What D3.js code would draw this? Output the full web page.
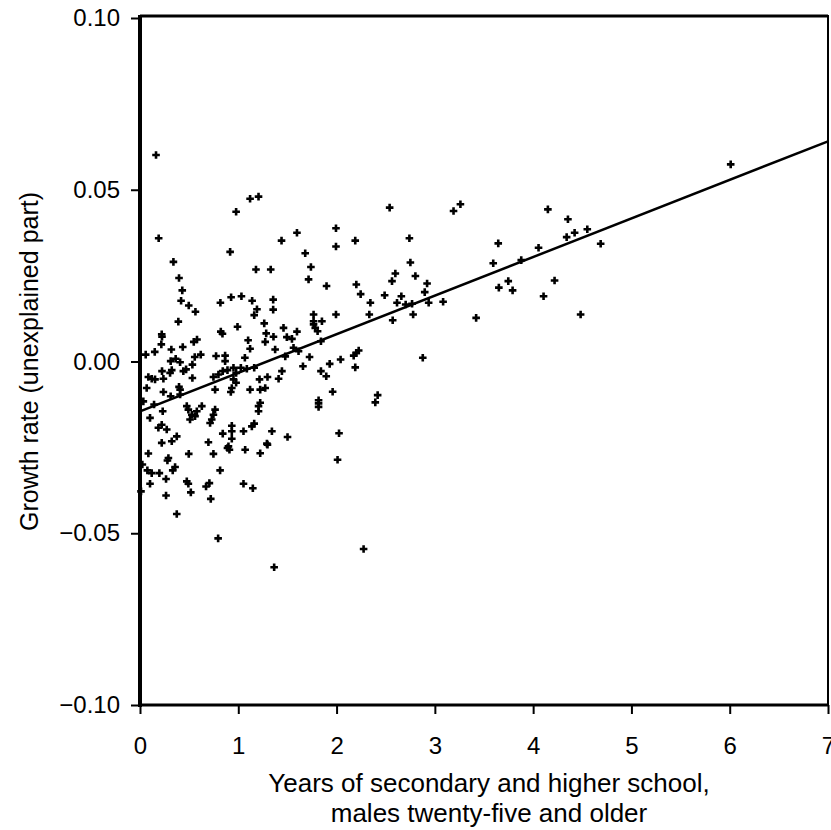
<!DOCTYPE html>
<html>
<head>
<meta charset="utf-8">
<script src="https://cdn.jsdelivr.net/npm/d3@7"></script>
<style>
  html, body { margin: 0; padding: 0; background: #fff; }
  svg { display: block; }
  text { font-family: "Liberation Sans", Arial, Helvetica, sans-serif; fill: #000; }
</style>
</head>
<body>
<svg id="chart" width="831" height="830"></svg>
<script>
// ---- data ----
const xValues = [
  0.163,0.978,1.12,1.206,0.19,0.917,1.44,0.34,1.18,1.33,0.397,0.43,0.418,0.496,0.564,0.818,0.927,1.032,1.141,1.355,1.355,1.19,1.162,
  0.39,0.221,0.224,0.217,0.058,0.15,0.319,0.435,0.547,0.58,0.618,0.557,0.822,0.839,0.992,1.264,1.284,1.274,1.358,1.46,1.494,1.10,1.12,1.375,1.067,0.774,0.866,0.866,0.312,0.363,0.408,0.441,0.469,0.533,0.323,0.306,0.224,0.085,0.119,0.153,0.238,0.533,0.068,0.238,0.312,0.408,0.397,0.408,0.747,0.798,0.842,0.89,0.951,0.978,0.951,0.978,0.934,0.924,1.026,1.087,1.162,0.764,1.216,1.297,1.41,1.444,1.12,1.223,1.274,0.034,0.143,0.231,0.476,0.492,0.578,0.629,0.527,0.509,0.56,0.764,0.747,0.73,0.713,1.206,1.223,1.206,0.102,0.221,0.187,0.272,0.374,0.323,0.221,0.696,0.842,0.934,0.934,0.934,1.053,1.138,1.162,1.342,1.291,1.501,0.9,
  0.085,0.024,0.289,0.279,0.357,0.333,0.075,0.119,0.197,0.265,0.102,0.01,0.265,0.374,0.496,0.476,0.492,0.517,0.747,0.815,0.89,0.91,1.07,1.223,1.297,0.672,0.706,0.72,1.053,1.148,0.795,1.365,
  2.54,3.19,3.26,1.597,1.994,1.994,2.19,2.741,1.681,1.739,1.715,1.898,2.201,2.245,2.344,2.489,2.564,2.598,2.751,2.802,2.921,2.897,2.659,2.615,2.703,2.768,2.937,3.084,2.333,2.779,1.766,1.994,
  2.571,1.766,1.766,1.851,1.783,1.807,1.597,1.546,1.841,1.562,1.613,1.478,1.725,1.658,1.841,1.895,1.93,2.041,2.174,2.201,2.225,2.19,2.877,1.96,1.817,1.817,1.817,2.418,2.394,2.025,2.01,2.275,
  4.15,4.354,4.551,4.422,4.341,3.645,4.687,4.055,3.879,3.594,3.747,4.218,3.651,3.791,4.106,3.42,4.483,
  6.01
];
const yValues = [
  0.0601,0.0436,0.0474,0.048,0.0359,0.0319,0.0352,0.029,0.0268,0.0268,0.0243,0.0207,0.0177,0.0163,0.0145,0.0171,0.0187,0.019,0.0177,0.018,0.0151,0.0152,0.0135,
  0.0116,0.0079,0.0072,0.005,0.002,0.0028,0.0035,0.0042,0.0057,0.0064,0.002,0.0013,0.0087,0.0081,0.0101,0.0111,0.0082,0.0057,0.0072,0.0098,0.0071,0.0062,0.0037,0.0035,0.0011,0.0016,0.0017,0.0001,0.0001,0.0008,-0.0002,-0.0028,-0.0023,-0.0009,-0.0025,-0.0033,-0.0028,-0.0045,-0.005,-0.0052,-0.005,-0.0048,-0.0077,-0.0089,-0.0101,-0.0082,-0.0074,-0.0096,-0.0045,-0.0038,-0.0028,-0.0025,-0.0018,-0.0033,-0.0052,-0.0062,-0.0077,-0.0089,-0.0018,-0.0021,-0.0018,-0.0082,-0.0052,-0.0045,-0.005,-0.0028,-0.0082,-0.0082,-0.0077,-0.0116,-0.0125,-0.0145,-0.013,-0.014,-0.0145,-0.013,-0.0155,-0.0169,-0.0159,-0.014,-0.0155,-0.0169,-0.0179,-0.013,-0.012,-0.0145,-0.0164,-0.0184,-0.0193,-0.0198,-0.0218,-0.0232,-0.0237,-0.0235,-0.021,-0.0187,-0.0203,-0.0225,-0.0203,-0.0189,-0.0181,-0.0203,-0.0239,-0.022,-0.0247,
  -0.0268,-0.03,-0.0281,-0.0288,-0.0307,-0.0317,-0.0317,-0.0325,-0.0325,-0.0342,-0.0356,-0.0378,-0.039,-0.0444,-0.0269,-0.0349,-0.0356,-0.0381,-0.0269,-0.0317,-0.0252,-0.0257,-0.0257,-0.0267,-0.0242,-0.0364,-0.0354,-0.04,-0.0356,-0.0369,-0.0515,-0.0599,
  0.0448,0.0438,0.0458,0.0375,0.0388,0.0335,0.0352,0.0359,0.0315,0.0275,0.0239,0.022,0.0224,0.0196,0.0171,0.0193,0.0234,0.0256,0.0288,0.0249,0.0227,0.0202,0.019,0.0171,0.0166,0.0168,0.0171,0.0174,0.0137,0.0137,0.0137,0.0137,
  0.012,0.0117,0.0108,0.0117,0.0098,0.0088,0.0087,0.0066,0.0059,0.004,0.003,0.0015,0.0013,-0.0014,-0.0028,-0.0043,-0.0007,0.0006,0.0017,0.0025,0.0032,-0.0017,0.0011,-0.0088,-0.0113,-0.0132,-0.0122,-0.0098,-0.0119,-0.0209,-0.0286,-0.0546,
  0.0443,0.0414,0.0385,0.0375,0.0362,0.0344,0.0343,0.0331,0.0295,0.0286,0.0234,0.0236,0.0215,0.0207,0.019,0.0127,0.0137,
  0.0574
];
const fitX = [0, 7];
const fitY = [-0.0145, 0.0641];
const xTicks = [0, 1, 2, 3, 4, 5, 6, 7];
const xTickLabels = ["0", "1", "2", "3", "4", "5", "6", "7"];
const yTicks = [-0.10, -0.05, 0.00, 0.05, 0.10];
const yTickLabels = ["\u22120.10", "\u22120.05", "0.00", "0.05", "0.10"];
const xTitleLines = ["Years of secondary and higher school,", "males twenty-five and older"];
const yTitle = "Growth rate (unexplained part)";

// ---- drawing ----
(function () {
  const svg = d3.select("#chart");
  const pl = 140, pr = 828, pt = 18, pb = 705;

  const x = d3.scaleLinear().domain([0, 7]).range([pl, pr]);
  const y = d3.scaleLinear().domain([-0.10, 0.10]).range([pb, pt]);

  const xAxis = d3.axisBottom(x).tickValues(xTicks)
    .tickFormat((d, i) => xTickLabels[i]).tickSize(9).tickPadding(23);
  const yAxis = d3.axisLeft(y).tickValues(yTicks)
    .tickFormat((d, i) => yTickLabels[i]).tickSize(9).tickPadding(11);

  const gx = svg.append("g").attr("transform", `translate(0,${pb})`).call(xAxis);
  const gy = svg.append("g").attr("transform", `translate(${pl},0)`).call(yAxis);
  [gx, gy].forEach(g => {
    g.select(".domain").remove();
    g.selectAll(".tick line").attr("stroke", "#000").attr("stroke-width", 2);
    g.selectAll(".tick text").style("font-size", "24px").attr("fill", "#000");
  });

  // frame
  svg.append("line").attr("x1", pl).attr("x2", pl).attr("y1", pt - 3).attr("y2", pb + 2)
    .attr("stroke", "#000").attr("stroke-width", 4);
  svg.append("line").attr("x1", pl).attr("x2", pr).attr("y1", pt - 2).attr("y2", pt - 2)
    .attr("stroke", "#000").attr("stroke-width", 3);
  svg.append("line").attr("x1", pl).attr("x2", pr).attr("y1", pb).attr("y2", pb)
    .attr("stroke", "#000").attr("stroke-width", 3);
  svg.append("line").attr("x1", pr).attr("x2", pr).attr("y1", pt - 3).attr("y2", pb + 1)
    .attr("stroke", "#000").attr("stroke-width", 2);

  // regression line
  svg.append("path")
    .datum(fitX.map((d, i) => [d, fitY[i]]))
    .attr("d", d3.line().x(d => x(d[0])).y(d => y(d[1])))
    .attr("fill", "none").attr("stroke", "#000").attr("stroke-width", 2.5);

  // plus markers
  const pts = xValues.map((d, i) => [d, yValues[i]]);
  const arm = 3.8;
  svg.append("g").selectAll("path").data(pts).join("path")
    .attr("d", d => {
      const cx = x(d[0]), cy = y(d[1]);
      return `M${cx - arm},${cy}H${cx + arm}M${cx},${cy - arm}V${cy + arm}`;
    })
    .attr("stroke", "#000").attr("stroke-width", 2.6).attr("fill", "none");

  // titles
  const xt = svg.append("text").attr("text-anchor", "middle").style("font-size", "26px");
  xTitleLines.forEach((t, i) => {
    xt.append("tspan").attr("x", 489).attr("y", 792 + i * 30).text(t);
  });
  svg.append("text")
    .attr("transform", `translate(38,${(pt + pb) / 2}) rotate(-90)`)
    .attr("text-anchor", "middle").style("font-size", "25px")
    .text(yTitle);
})();
</script>
</body>
</html>
